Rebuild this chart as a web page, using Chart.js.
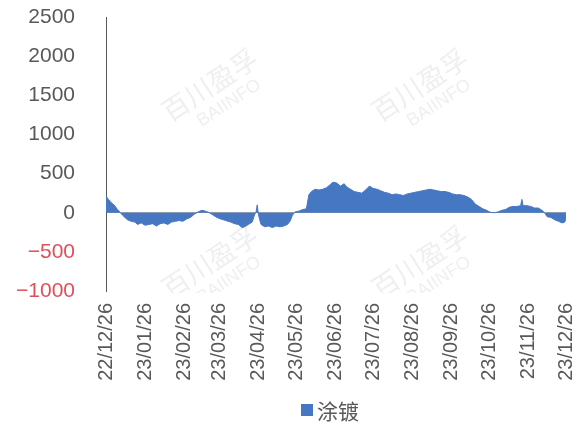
<!DOCTYPE html>
<html>
<head>
<meta charset="utf-8">
<script src="https://cdn.jsdelivr.net/npm/chart.js@4"></script>
<style>
  html, body { margin: 0; padding: 0; background: #fff; }
  #wrap { width: 574px; height: 425px; }
</style>
</head>
<body>
<div id="wrap"><canvas id="spreadChart" width="574" height="425"></canvas></div>
<script>
// 涂镀 日度数据（以 2022-12-26 起算的天数）
const dayOffsets = [
    0, 2, 4, 7, 9, 11, 13, 15, 17, 20, 23, 25, 28, 31, 34, 37, 40, 43, 46, 49,
    52, 55, 58, 61, 64, 67, 70, 73, 76, 79, 82, 85, 88, 91, 95, 99, 102, 105, 108, 110,
    113, 116, 118, 119, 120, 121, 123, 126, 129, 132, 135, 138, 141, 144, 146, 148, 150, 153, 156, 159,
    161, 163, 166, 169, 172, 175, 178, 180, 183, 186, 189, 191, 194, 197, 200, 203, 206, 209, 212, 215,
    218, 221, 224, 227, 230, 233, 236, 239, 242, 245, 248, 251, 254, 257, 260, 263, 266, 269, 272, 275,
    278, 281, 284, 287, 290, 293, 296, 299, 302, 305, 308, 311, 314, 317, 320, 323, 326, 329, 330, 331,
    334, 337, 340, 343, 346, 348, 350, 353, 356, 359, 362, 364, 365
];
const coatingValues = [
    210, 170, 130, 90, 40, 10, -30, -60, -90, -110, -120, -150, -130, -160, -150, -140, -170, -140, -130, -150,
    -120, -110, -100, -110, -80, -60, -20, 10, 30, 20, 0, -30, -60, -80, -100, -120, -140, -150, -190, -180,
    -150, -120, -20, 0, 100, -30, -150, -180, -170, -190, -170, -180, -170, -150, -110, -30, 10, 20, 40, 50,
    230, 270, 300, 290, 300, 320, 360, 390, 380, 340, 370, 330, 300, 270, 260, 250, 290, 340, 310, 300,
    280, 260, 250, 230, 240, 230, 220, 240, 250, 260, 270, 280, 290, 300, 290, 280, 270, 270, 260, 240,
    230, 230, 220, 200, 170, 110, 80, 50, 30, 5, 0, 10, 30, 40, 70, 80, 80, 90, 170, 90,
    90, 80, 60, 60, 30, 0, -50, -60, -90, -110, -130, -120, -70
];

// 横轴刻度：每月 26 日
const tickDays = [0, 31, 62, 90, 121, 151, 182, 212, 243, 274, 304, 335, 365];
const tickLabels = ['22/12/26', '23/01/26', '23/02/26', '23/03/26', '23/04/26', '23/05/26', '23/06/26',
                    '23/07/26', '23/08/26', '23/09/26', '23/10/26', '23/11/26', '23/12/26'];
const yTicks = [-1000, -500, 0, 500, 1000, 1500, 2000, 2500];

const seriesName = '涂镀';
const seriesColor = '#4677C2';
const axisFont = '"Liberation Sans", Arial, "Noto Sans CJK SC", sans-serif';

// 水印（只画在绘图区高度以内）
const watermarkPlugin = {
    id: 'watermark',
    beforeDatasetsDraw(chart) {
        const ctx = chart.ctx;
        const spots = [[212, 88], [422, 88], [212, 265], [422, 265]];
        ctx.save();
        ctx.beginPath();
        ctx.rect(0, 0, chart.width, chart.chartArea.bottom + 2);
        ctx.clip();
        ctx.fillStyle = 'rgba(205, 205, 205, 0.32)';
        ctx.textAlign = 'center';
        ctx.textBaseline = 'middle';
        spots.forEach(([x, y]) => {
            ctx.save();
            ctx.translate(x, y);
            ctx.rotate(-33 * Math.PI / 180);
            ctx.font = '27px "Noto Sans CJK SC"';
            ctx.fillText('百川盈孚', 0, -4);
            ctx.font = '18px "Liberation Sans", Arial';
            ctx.fillText('BAIINFO', 6, 22);
            ctx.restore();
        });
        ctx.restore();
    }
};

// 底部图例，居中于绘图区
const bottomLegendPlugin = {
    id: 'bottomLegend',
    afterDraw(chart) {
        const ctx = chart.ctx;
        const area = chart.chartArea;
        ctx.save();
        ctx.font = '21px "Noto Sans CJK SC"';
        const textW = ctx.measureText(seriesName).width;
        const box = 12, gap = 4;
        const total = box + gap + textW;
        const cx = (area.left + area.right) / 2 - 6;
        const x0 = cx - total / 2;
        const y = 410;
        ctx.fillStyle = seriesColor;
        ctx.fillRect(x0, y - box / 2, box, box);
        ctx.fillStyle = '#595959';
        ctx.textAlign = 'left';
        ctx.textBaseline = 'middle';
        ctx.fillText(seriesName, x0 + box + gap, y + 1);
        ctx.restore();
    }
};

new Chart(document.getElementById('spreadChart'), {
    type: 'line',
    data: {
        datasets: [{
            label: seriesName,
            data: dayOffsets.map((d, i) => ({ x: d, y: coatingValues[i] })),
            borderColor: seriesColor,
            backgroundColor: seriesColor,
            borderWidth: 1,
            pointRadius: 0,
            tension: 0,
            fill: 'origin'
        }]
    },
    options: {
        responsive: false,
        devicePixelRatio: 1,
        animation: false,
        layout: {
            padding: { top: 17, right: 8, bottom: 40, left: 0 }
        },
        plugins: {
            legend: { display: false },
            tooltip: { enabled: false }
        },
        scales: {
            x: {
                type: 'linear',
                min: 0,
                max: 365,
                grid: { display: false },
                border: { display: false },
                afterBuildTicks(scale) {
                    scale.ticks = tickDays.map(v => ({ value: v }));
                },
                afterFit(scale) {
                    scale.height = 94;
                    scale.paddingLeft = 0;
                    scale.paddingRight = 0;
                },
                ticks: {
                    autoSkip: false,
                    minRotation: 90,
                    maxRotation: 90,
                    padding: 4,
                    color: '#595959',
                    font: { family: axisFont, size: 20 },
                    callback: (value) => tickLabels[tickDays.indexOf(value)]
                }
            },
            y: {
                min: -1000,
                max: 2500,
                afterBuildTicks(scale) {
                    scale.ticks = yTicks.map(v => ({ value: v }));
                },
                afterFit(scale) {
                    scale.width = 106;
                    scale.paddingTop = 0;
                    scale.paddingBottom = 0;
                },
                grid: {
                    drawTicks: false,
                    color: (c) => (c.tick && c.tick.value === 0 ? '#a6a6a6' : 'rgba(0,0,0,0)'),
                    lineWidth: 1
                },
                border: { display: true, color: '#595959', width: 1 },
                ticks: {
                    padding: 31,
                    color: (c) => (c.tick && c.tick.value < 0 ? '#e0505a' : '#595959'),
                    font: { family: axisFont, size: 21 },
                    callback: (value) => (value < 0 ? '\u2212' + Math.abs(value) : String(value))
                }
            }
        }
    },
    plugins: [watermarkPlugin, bottomLegendPlugin]
});
</script>
</body>
</html>
